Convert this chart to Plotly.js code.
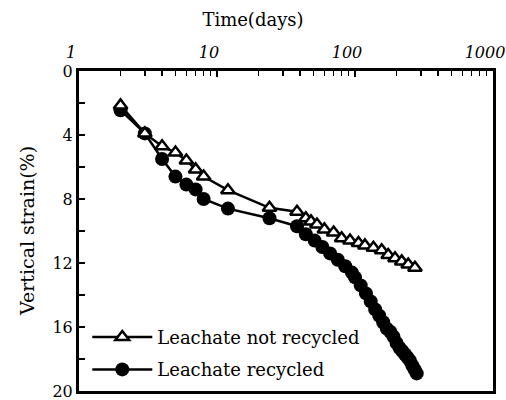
<!DOCTYPE html>
<html>
<head>
<meta charset="utf-8">
<script src="https://cdn.plot.ly/plotly-3.0.1.min.js"></script>
<style>html,body{margin:0;padding:0;background:#fff;}</style>
</head>
<body>
<div id="chart" style="width:506px;height:400px;"></div>
<script>
var notRecycledDays = [2,3,4,5,6,7,8,12,24,38,44,48,53,60,70,80,92,106,118,136,156,174,195,218,243,272];
var notRecycledStrain = [2.15,3.9,4.7,5.1,5.6,6.15,6.6,7.45,8.55,8.8,9.2,9.4,9.6,9.9,10.1,10.45,10.6,10.75,10.9,11.05,11.2,11.5,11.7,11.9,12.1,12.3];

var recycledDays = [2,3,4,5,6,7,8,12,24,38,44,51,58,66,75,85,95,100,110,120,130,140,150,160,170,180,190,200,210,220,230,240,250,260,270,280];
var recycledStrain = [2.45,3.9,5.5,6.6,7.1,7.4,8.0,8.6,9.2,9.7,10.2,10.6,11.0,11.4,11.8,12.2,12.6,12.9,13.4,13.9,14.4,14.9,15.3,15.7,16.1,16.3,16.6,17.0,17.3,17.5,17.7,17.9,18.1,18.4,18.65,18.9];

var xTickVals = [1,10,100,1000];
var xTickText = ['1','10','100','1000'];
var xMinorVals = [2,3,4,5,6,7,8,9,20,30,40,50,60,70,80,90,200,300,400,500,600,700,800,900];
var yTickVals = [0,4,8,12,16,20];
var yMinorVals = [2,6,10,14,18];

var serif = 'DejaVu Serif, Liberation Serif, serif';

var traces = [
  {
    x: recycledDays, y: recycledStrain, name: 'Leachate recycled',
    type: 'scatter', mode: 'lines+markers', legendrank: 2, legendgroup: 'b',
    line: {color: '#000', width: 2.5},
    marker: {symbol: 'circle', size: 14, color: '#000'}
  },
  {
    x: notRecycledDays, y: notRecycledStrain, name: 'Leachate not recycled',
    type: 'scatter', mode: 'lines+markers', legendrank: 1, legendgroup: 'a',
    line: {color: '#000', width: 2.5},
    marker: {symbol: 'triangle-up', size: 12, color: '#fff', line: {color: '#000', width: 2.5}}
  }
];

var layout = {
  width: 506, height: 400,
  margin: {l: 79, r: 13, t: 71, b: 9},
  paper_bgcolor: '#fff', plot_bgcolor: '#fff',
  font: {family: serif, color: '#000', size: 15},
  title: {
    text: 'Time(days)', x: 0.5, xref: 'container', xanchor: 'center',
    y: 0.95, yref: 'container', yanchor: 'middle',
    font: {family: serif, size: 18, color: '#000'}
  },
  xaxis: {
    type: 'log', range: [0, 3], side: 'top',
    tickmode: 'array', tickvals: xTickVals, ticktext: xTickText,
    ticks: 'inside', ticklen: 6, tickwidth: 1.5, tickcolor: '#000',
    tickfont: {family: serif, size: 16, style: 'italic', color: '#000'},
    ticklabelstandoff: 4, ticklabelshift: -8, ticklabeloverflow: 'allow',
    minor: {tickmode: 'array', tickvals: xMinorVals, ticks: 'inside', ticklen: 5, tickwidth: 1.5, tickcolor: '#000', showgrid: false},
    showgrid: false, zeroline: false,
    showline: true, linecolor: '#000', linewidth: 3, mirror: true
  },
  yaxis: {
    range: [20, 0],
    tickmode: 'array', tickvals: yTickVals,
    ticks: 'inside', ticklen: 6, tickwidth: 1.5, tickcolor: '#000',
    tickfont: {family: serif, size: 16, color: '#000'},
    ticklabelshift: 0, ticklabeloverflow: 'allow',
    minor: {tickmode: 'array', tickvals: yMinorVals, ticks: 'inside', ticklen: 6, tickwidth: 1.5, tickcolor: '#000', showgrid: false},
    showgrid: false, zeroline: false,
    showline: true, linecolor: '#000', linewidth: 3, mirror: true
  },
  showlegend: true,
  legend: {
    x: 0.02, y: 0.01, xanchor: 'left', yanchor: 'bottom',
    bgcolor: 'rgba(0,0,0,0)', borderwidth: 0,
    font: {family: serif, size: 18, color: '#000'},
    tracegroupgap: 6, itemwidth: 60
  },
  annotations: [{
    text: 'Vertical strain(%)', xref: 'paper', yref: 'paper',
    x: 0, y: 0.5, xshift: -52, xanchor: 'center', yanchor: 'middle',
    textangle: -90, showarrow: false,
    font: {family: serif, size: 19, color: '#000'}
  }]
};

Plotly.newPlot('chart', traces, layout, {displayModeBar: false, staticPlot: true});
</script>
</body>
</html>
